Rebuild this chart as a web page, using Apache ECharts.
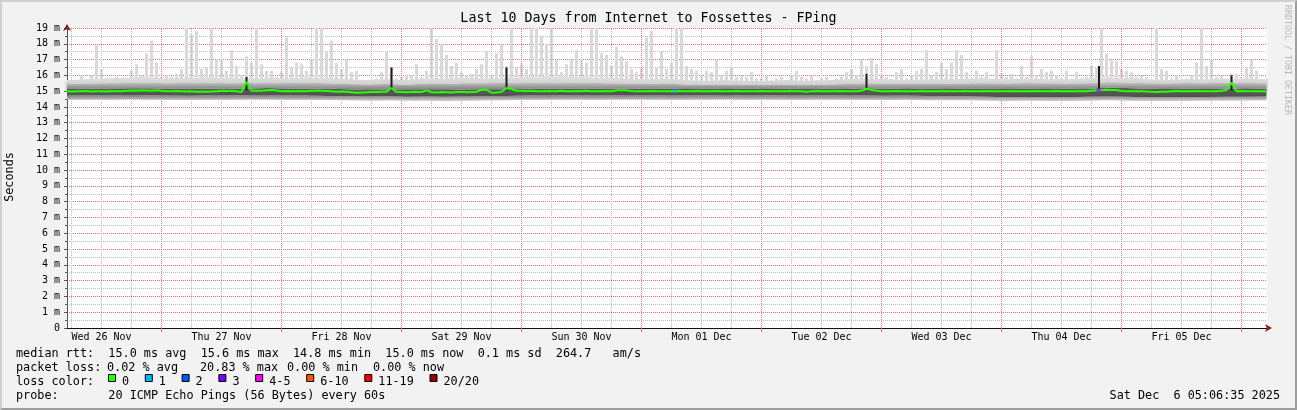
<!DOCTYPE html>
<html><head><meta charset="utf-8">
<script src="https://cdn.jsdelivr.net/npm/echarts@6/dist/echarts.min.js"></script>
<style>
html,body{margin:0;padding:0;background:#f2f2f2;}
#wrap{position:relative;width:1297px;height:410px;overflow:hidden;}
#chart{position:absolute;left:0;top:0;width:1297px;height:410px;}
#frame{position:absolute;left:0;top:0;width:1297px;height:410px;box-sizing:border-box;border-top:2px solid #cfcfcf;border-left:2px solid #cfcfcf;border-right:2px solid #9e9e9e;border-bottom:2px solid #9e9e9e;pointer-events:none;}
</style></head><body>
<div id="wrap"><div id="chart"></div><div id="frame"></div></div>
<script>
// ---- data (hours counted from Wed 26 Nov 2025 00:00) ----
const X_MIN = 5.1, X_MAX = 245.1;         // Nov 26 ~05:06 .. Dec 6 ~05:06
const HOURLY_START = 5;                     // first hourly sample
const SMOKE_START = 5, SMOKE_STEP = 4;      // smoke band samples every 4 h

const dayLabels = ['Wed 26 Nov','Thu 27 Nov','Fri 28 Nov','Sat 29 Nov','Sun 30 Nov',
                   'Mon 01 Dec','Tue 02 Dec','Wed 03 Dec','Thu 04 Dec','Fri 05 Dec'];
const dayTicks = [24,48,72,96,120,144,168,192,216,240];
const dayLabelHours = [12,36,60,84,108,132,156,180,204,228];
const yLabels = ['0','1 m','2 m','3 m','4 m','5 m','6 m','7 m','8 m','9 m','10 m',
                 '11 m','12 m','13 m','14 m','15 m','16 m','17 m','18 m','19 m'];

// median rtt (ms), hourly h5..h245
const medianRtt = [
15.00,14.98,15.00,14.99,15.01,14.98,15.00,15.00,14.98,15.01,
15.00,14.99,15.02,15.04,15.03,15.05,15.04,15.03,15.05,15.02,
15.00,14.99,15.01,15.00,14.98,15.00,14.97,14.98,14.96,14.98,
15.00,15.02,15.01,15.02,15.00,14.95,15.60,15.02,15.03,15.02,
15.06,15.08,15.04,15.00,15.01,14.99,15.00,15.01,14.99,15.02,
15.03,15.02,15.01,15.00,14.97,14.98,14.96,14.93,14.90,14.92,
14.93,14.95,14.94,14.96,14.97,15.20,14.95,14.94,14.93,14.95,
14.96,14.94,15.05,14.93,14.92,14.94,14.93,14.92,14.94,14.95,
14.93,14.95,14.96,15.08,15.10,14.90,14.91,14.95,15.20,15.15,
15.02,15.03,15.01,15.02,15.00,15.00,15.01,14.99,15.00,15.02,
15.00,14.99,15.01,15.00,15.02,15.00,14.99,15.00,15.01,15.00,
15.05,15.06,15.05,15.01,15.00,14.99,15.00,15.01,15.00,14.99,
15.00,15.00,15.01,14.99,15.00,15.00,15.01,15.00,14.99,15.00,
15.01,15.00,14.99,15.00,15.01,15.00,15.00,14.99,15.00,15.01,
15.00,15.00,14.99,15.00,15.00,15.01,15.00,14.99,14.97,15.00,
15.01,15.00,14.99,15.00,15.01,15.00,15.00,14.99,15.00,15.02,
15.15,15.08,15.02,15.00,14.99,15.00,15.01,15.00,14.99,15.00,
15.00,15.01,15.00,14.99,15.00,15.01,15.00,14.99,15.00,15.00,
15.01,15.00,14.99,15.00,15.01,15.00,15.00,14.99,15.00,15.01,
15.00,14.99,15.00,15.00,15.01,15.00,14.99,15.00,15.01,15.00,
15.00,14.99,15.00,15.01,15.00,15.02,15.05,15.08,15.09,15.08,
15.07,15.01,15.00,14.99,15.00,15.00,14.98,14.96,14.95,14.96,
14.97,15.00,15.01,15.00,14.99,15.00,15.01,15.00,15.00,14.99,
15.00,15.03,15.08,15.55,15.00,15.01,15.00,15.00,14.99,15.00,
15.00
];

// highest ping of each hour (ms), hourly h5..h245
const maxRtt = [
15.6,15.6,15.7,16.0,15.7,16.0,17.9,16.4,15.8,15.8,
15.9,15.7,15.8,16.3,16.7,16.0,17.4,18.2,16.8,15.9,
16.0,15.9,16.1,16.4,19.2,18.6,18.8,16.4,16.5,19.2,
17.0,17.0,16.3,17.6,16.6,16.0,17.2,16.8,19.2,16.7,
16.3,16.3,15.9,16.2,18.4,16.5,16.8,16.7,16.3,17.0,
19.2,19.2,17.5,18.2,16.8,16.4,17.0,16.2,16.3,15.7,
15.5,15.7,15.8,16.2,17.5,16.5,15.8,15.9,16.0,16.0,
16.7,15.9,16.3,19.2,18.3,18.0,17.3,16.6,16.8,16.2,
16.0,16.1,16.4,16.7,17.5,16.0,17.4,18.0,16.6,19.2,
16.5,16.7,16.4,19.2,19.2,18.5,18.0,19.0,17.0,16.2,
16.7,17.0,17.6,17.0,16.8,19.2,19.2,17.4,17.3,16.6,
17.8,17.2,16.9,16.4,16.2,16.5,18.4,18.8,16.5,17.5,
16.4,16.8,19.2,19.2,16.6,16.4,16.3,16.0,16.3,16.2,
17.0,16.0,16.3,16.5,15.9,16.0,15.9,16.2,15.8,15.8,
16.0,15.7,15.8,15.9,15.7,16.0,16.3,15.9,15.8,16.0,
15.7,15.8,15.9,15.7,15.8,15.9,16.2,16.4,16.0,17.0,
16.6,17.1,16.7,16.0,15.9,15.8,16.2,16.4,15.8,16.0,
16.3,16.4,17.6,16.0,16.2,16.8,16.4,16.8,17.6,17.3,
16.2,15.8,16.3,15.9,16.2,15.7,17.6,16.1,15.9,16.1,
15.8,16.6,15.9,17.2,16.0,16.4,16.2,16.3,16.0,15.8,
16.3,15.8,16.2,15.8,15.9,16.6,16.5,19.1,17.4,17.0,
16.9,16.4,16.3,16.2,15.9,16.0,15.9,15.6,19.0,16.4,
16.3,15.8,16.0,15.7,15.8,16.0,16.8,19.0,16.6,17.0,
15.9,16.0,15.8,16.1,16.1,15.8,16.5,17.0,16.3,15.7,
15.8
];

// smoke band edges (ms), every 4 h from h5 to h245
const smokeLo = [
14.45,14.47,14.46,14.48,14.47,14.45,14.44,14.46,14.45,14.47,14.48,14.46,14.45,14.44,14.42,
14.40,14.41,14.39,14.40,14.38,14.40,14.41,14.43,14.45,
14.46,14.47,14.45,14.46,14.48,14.47,14.45,14.46,14.47,14.48,14.46,14.47,14.46,14.45,14.47,14.46,14.45,14.44,14.45,14.43,14.42,14.42,
14.40,14.38,14.39,14.37,14.38,14.40,14.42,14.40,14.38,14.37,14.38,14.39,14.40,14.41,14.42
];
const coreLo = [
14.72,14.74,14.73,14.75,14.74,14.72,14.71,14.72,14.73,14.74,14.75,14.73,14.72,14.70,14.68,
14.66,14.67,14.65,14.66,14.64,14.66,14.67,14.70,14.72,
14.73,14.74,14.72,14.73,14.75,14.74,14.72,14.73,14.74,14.75,14.73,14.74,14.73,14.72,14.74,14.73,14.72,14.71,14.72,14.70,14.68,14.67,
14.64,14.62,14.63,14.61,14.62,14.64,14.66,14.64,14.62,14.61,14.62,14.63,14.64,14.65,14.66
];
const coreHi = [
15.14,15.16,15.17,15.18,15.19,15.17,15.15,15.16,15.17,15.16,15.20,15.17,15.16,15.17,15.12,
15.08,15.10,15.08,15.07,15.08,15.10,15.12,15.12,15.15,
15.16,15.15,15.16,15.15,15.17,15.16,15.15,15.14,15.15,15.14,15.15,15.14,15.15,15.14,15.15,15.14,15.18,15.15,15.14,15.15,15.14,15.15,
15.15,15.14,15.15,15.14,15.15,15.14,15.22,15.20,15.15,15.14,15.15,15.14,15.16,15.18,15.15
];
const smokeHi = [
15.45,15.48,15.50,15.52,15.55,15.50,15.52,15.55,15.50,15.52,15.55,15.52,15.55,15.50,15.45,
15.42,15.45,15.40,15.48,15.45,15.50,15.50,15.55,15.52,
15.55,15.52,15.55,15.50,15.48,15.45,15.48,15.42,15.40,15.42,15.40,15.40,15.42,15.40,15.42,15.45,15.50,15.45,15.45,15.48,15.45,15.48,
15.50,15.48,15.52,15.50,15.48,15.50,15.58,15.55,15.50,15.48,15.52,15.50,15.55,15.52,15.50
];
// top of the dense light-grey haze above the smoke
const hazeHi = [
15.70,15.75,15.80,15.85,15.90,15.80,15.85,15.90,15.85,15.80,15.85,15.80,15.90,15.85,15.75,
15.70,15.75,15.70,15.80,15.80,15.85,15.80,15.85,15.90,
15.95,15.90,15.90,15.85,15.80,15.75,15.80,15.70,15.65,15.70,15.65,15.65,15.70,15.65,15.70,15.75,15.80,15.75,15.70,15.75,15.75,15.80,
15.80,15.75,15.80,15.75,15.75,15.80,15.90,15.85,15.75,15.70,15.75,15.75,15.80,15.80,15.75
];

// dark smoke spikes: [hour, low ms, high ms]
const darkSpikes = [[41,15.05,15.9],[70,15.05,16.5],[93,15.05,16.5],[165,15.05,16.1],[211.5,15.05,16.6],[238,15.05,16.0]];
// median samples with packet loss: [hour, ms, loss class index]
const lossEvents = [[126.7,15.0,1],[211.3,15.05,2],[211.7,15.07,4]];

const lossLabels = ['0','1','2','3','4-5','6-10','11-19','20/20'];
const lossColors = ['#26ff00','#00b8ff','#0059ff','#7e00ff','#ff00ff','#ff5500','#ff0000','#a10000'];

const titleText = 'Last 10 Days from Internet to Fossettes - FPing';
const rttRow = 'median rtt:  15.0 ms avg  15.6 ms max  14.8 ms min  15.0 ms now  0.1 ms sd  264.7   am/s';
const lossRow = ['packet loss:', '0.02 % avg', '20.83 % max', '0.00 % min', '0.00 % now'];
const lossRowX = [16, 107, 200, 287, 373];
const lossColorHead = 'loss color:';
const probeRow = 'probe:       20 ICMP Echo Pings (56 Bytes) every 60s';
const stampText = 'Sat Dec  6 05:06:35 2025';

// ---- build ----
const MONO = '"DejaVu Sans Mono", monospace';
const RED_GRID = '#e47272', GRAY_GRID = '#bcbcbc', ARROW = '#801f1f';
const gridLines = [];
for (let h = 6; h < X_MAX; h += 6) {
  gridLines.push({xAxis:h, lineStyle:{color:(h % 24 === 0) ? RED_GRID : GRAY_GRID, type:[1,1], width:1}});
}

const hx = i => HOURLY_START + i;
const sx = i => SMOKE_START + SMOKE_STEP * i;

// stacked series keep the value (y) first so that the stack runs on y; encode maps dims.
const YX = {x:1, y:0};
const spikeBase = medianRtt.map((m, i) => [m, hx(i)]);
const spikeTop = maxRtt.map((v, i) => [+(v - medianRtt[i]).toFixed(3), hx(i)]);
const s0 = smokeLo.map((v, i) => [v, sx(i)]);
const s1 = coreLo.map((v, i) => [+(v - smokeLo[i]).toFixed(3), sx(i)]);
const s2 = coreHi.map((v, i) => [+(v - coreLo[i]).toFixed(3), sx(i)]);
const s3 = smokeHi.map((v, i) => [+(v - coreHi[i]).toFixed(3), sx(i)]);
const s4 = hazeHi.map((v, i) => [+(v - smokeHi[i]).toFixed(3), sx(i)]);
const medData = medianRtt.map((m, i) => [hx(i), m]);

const grad = (a, b) => new echarts.graphic.LinearGradient(0, 0, 0, 1, [{offset:0, color:a},{offset:1, color:b}]);

const chart = echarts.init(document.getElementById('chart'), null, {renderer:'canvas'});

const gfx = [];
const LEG_FONT = '11.8px "DejaVu Sans Mono"';
const txt = (t, x, y, align) => ({type:'text', x, y, z:100,
  style:{text:t, font:LEG_FONT, fill:'#000', align:align || 'left', verticalAlign:'middle',
         textAlign:align || 'left', textVerticalAlign:'middle'}});
gfx.push(txt(rttRow, 16, 354));
lossRow.forEach((t, i) => gfx.push(txt(t, lossRowX[i], 368)));
gfx.push(txt(lossColorHead, 16, 382));
let bx = 108;
lossLabels.forEach((lab, i) => {
  gfx.push({type:'rect', z:100, shape:{x:bx + 0.5, y:374.5, width:7, height:7},
    style:{fill:lossColors[i], stroke:'#000', lineWidth:1}});
  gfx.push(txt(lab, bx + 14, 382));
  bx += 14 + lab.length * 7.1 + 15.7;
});
gfx.push(txt(probeRow, 16, 396));
gfx.push(txt(stampText, 1280, 396, 'right'));
gfx.push({type:'text', x:10, y:177, rotation:Math.PI/2, z:100,
  style:{text:'Seconds', font:LEG_FONT, fill:'#000', align:'center', verticalAlign:'middle', textAlign:'center', textVerticalAlign:'middle'}});
gfx.push({type:'text', x:1287, y:60, rotation:-Math.PI/2, z:100,
  style:{text:'RRDTOOL / TOBI OETIKER', font:'8.3px "DejaVu Sans Mono"', fill:'#b8b8b8', align:'center', verticalAlign:'middle', textAlign:'center', textVerticalAlign:'middle'}});

const option = {
  animation: false,
  backgroundColor: '#f2f2f2',
  title: {text:titleText, left:'center', top:12, padding:0,
    textStyle:{fontFamily:MONO, fontSize:13.3, fontWeight:'normal', color:'#000'}},
  grid: {left:67, right:30, top:28, bottom:82, show:true, backgroundColor:'#ffffff', borderWidth:0, outerBoundsMode:'none'},
  xAxis: [
    {type:'value', min:X_MIN, max:X_MAX, position:'bottom',
     axisLine:{show:true, onZero:false, lineStyle:{color:'#111', width:1}},
     axisTick:{show:true, customValues:dayTicks, length:4, lineStyle:{color:RED_GRID}},
     axisLabel:{show:true, customValues:dayLabelHours, margin:4,
       formatter:v => dayLabels[Math.round((v - 12) / 24)] || '',
       fontFamily:MONO, fontSize:10, color:'#000'},
     splitLine:{show:false}},
    {type:'value', min:X_MIN, max:X_MAX, position:'bottom',
     axisLine:{show:true, onZero:false, symbol:['none','arrow'], symbolSize:[6,7], symbolOffset:[0,5],
       lineStyle:{color:ARROW, opacity:0}},
     axisTick:{show:false}, axisLabel:{show:false}, splitLine:{show:false}}
  ],
  yAxis: [
    {type:'value', min:0, max:19, interval:1, position:'left',
     axisLine:{show:true, onZero:false, lineStyle:{color:'#555'}},
     axisTick:{show:true, length:3, lineStyle:{color:'#555'}},
     minorTick:{show:true, splitNumber:2, length:2, lineStyle:{color:'#555'}},
     axisLabel:{formatter:v => yLabels[v] ?? '', fontFamily:MONO, fontSize:10, color:'#000', margin:7},
     splitLine:{show:true, lineStyle:{color:RED_GRID, type:[1,1]}},
     minorSplitLine:{show:true, lineStyle:{color:GRAY_GRID, type:[1,1]}}},
    {type:'value', min:0, max:19, interval:1, position:'left',
     axisLine:{show:true, onZero:false, symbol:['none','arrow'], symbolSize:[6,7], symbolOffset:[0,4],
       lineStyle:{color:ARROW, opacity:0}},
     axisTick:{show:false}, axisLabel:{show:false}, splitLine:{show:false}}
  ],
  series: [
    {type:'bar', name:'spikeBase', xAxisIndex:0, stack:'spk', encode:YX, data:spikeBase, barWidth:3, z:1, silent:true,
     itemStyle:{color:'rgba(0,0,0,0)'}},
    {type:'bar', name:'maxRtt', xAxisIndex:0, stack:'spk', encode:YX, data:spikeTop, barWidth:3, z:1, silent:true,
     itemStyle:{color:'#d9d9d9'}},
    {type:'line', name:'smokeLo', stack:'smoke', encode:YX, data:s0, symbol:'none', z:2, silent:true,
     lineStyle:{opacity:0, width:0}},
    {type:'line', name:'smokeLower', stack:'smoke', encode:YX, data:s1, symbol:'none', z:2, silent:true,
     lineStyle:{opacity:0, width:0}, areaStyle:{opacity:1, color:grad('#7c7c7c','#d0d0d0')}},
    {type:'line', name:'smokeCore', stack:'smoke', encode:YX, data:s2, symbol:'none', z:2, silent:true,
     lineStyle:{opacity:0, width:0}, areaStyle:{opacity:1, color:grad('#5e5e5e','#4e4e4e')}},
    {type:'line', name:'smokeUpper', stack:'smoke', encode:YX, data:s3, symbol:'none', z:2, silent:true,
     lineStyle:{opacity:0, width:0}, areaStyle:{opacity:1, color:grad('#c8c8c8','#7c7c7c')}},
    {type:'line', name:'haze', stack:'smoke', encode:YX, data:s4, symbol:'none', z:2, silent:true,
     lineStyle:{opacity:0, width:0}, areaStyle:{opacity:1, color:grad('#e2e2e2','#cfcfcf')}},
    {type:'bar', name:'darkBase', xAxisIndex:1, stack:'dk', encode:YX, barWidth:2, z:3, silent:true,
     data:darkSpikes.map(d => [d[1], d[0]]), itemStyle:{color:'rgba(0,0,0,0)'}},
    {type:'bar', name:'darkTop', xAxisIndex:1, stack:'dk', encode:YX, barWidth:2, z:3, silent:true,
     data:darkSpikes.map(d => [+(d[2] - d[1]).toFixed(3), d[0]]), itemStyle:{color:'#1c1c1c'}},
    {type:'line', name:'median', data:medData, symbol:'none', z:4, silent:true,
     lineStyle:{color:'#26ff00', width:2},
     markLine:{silent:true, animation:false, z:1.5, symbol:['none','none'], label:{show:false},
       emphasis:{disabled:true}, data:gridLines}},
    {type:'scatter', name:'loss', z:5, silent:true, symbol:'rect', symbolSize:3,
     data:lossEvents.map(e => ({value:[e[0], e[1]], itemStyle:{color:lossColors[e[2]]}}))}
  ],
  graphic: gfx
};
chart.setOption(option);
</script>
</body></html>
